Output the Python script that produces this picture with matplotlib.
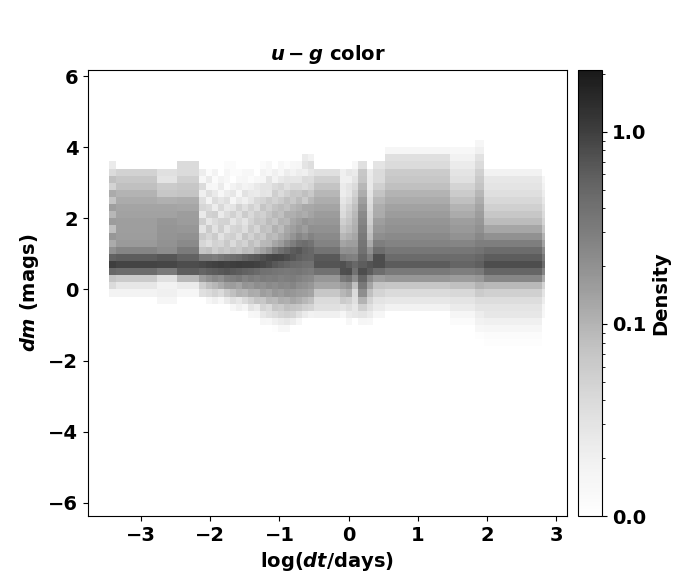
#!/usr/bin/env python3
"""Density of u-g color changes against time lag."""

import matplotlib
matplotlib.use('Agg')
import matplotlib.pyplot as plt
import numpy as np
from matplotlib.colors import LogNorm

# column edges in log(dt/days)
x_edges_left = [-3.46, -3.36, -2.77, -2.48, -2.16]
x_edges_fine = [-2.07, -1.98, -1.89, -1.80, -1.72, -1.63, -1.54, -1.46, -1.37, -1.28,
                -1.20, -1.11, -1.02, -0.94, -0.85, -0.76, -0.68, -0.59, -0.50]
x_edges_right = [-0.12, -0.04, 0.05, 0.14, 0.27, 0.35, 0.53, 1.47, 1.83, 1.96, 2.80, 2.84]

# row edges in dm (mags)
y_edges = [-1.8, -1.6, -1.4, -1.2, -1.0, -0.8, -0.6, -0.4, -0.2, 0.0, 0.2, 0.4, 0.6, 0.8, 1.0,
           1.2, 1.4, 1.6, 1.8, 2.0, 2.2, 2.4, 2.6, 2.8, 3.0, 3.2, 3.4, 3.6, 3.8, 4.0, 4.2]

# density x 1000, one list per column, rows from the bottom up
density_left = [
    [0, 0, 0, 0, 0, 0, 0, 0, 18, 40, 70, 480, 1000, 560, 200, 120, 175, 80, 160, 95, 150, 70, 120, 48, 80, 40, 24, 0, 0, 0],
    [0, 0, 0, 0, 0, 0, 0, 0, 18, 27, 60, 450, 900, 600, 260, 165, 155, 150, 150, 140, 135, 120, 100, 80, 68, 50, 0, 0, 0, 0],
    [0, 0, 0, 0, 0, 0, 0, 16, 20, 19, 34, 330, 880, 680, 220, 195, 190, 180, 175, 140, 135, 108, 68, 60, 30, 34, 0, 0, 0, 0],
    [0, 0, 0, 0, 0, 0, 0, 0, 16, 24, 90, 600, 800, 560, 320, 230, 200, 175, 160, 155, 130, 115, 74, 68, 54, 40, 40, 0, 0, 0],
]

density_fine = [
    [0, 0, 0, 0, 0, 0, 0, 0, 34, 55, 160, 520, 850, 330, 70, 45, 60, 30, 55, 25, 45, 35, 20, 40, 14, 22, 0, 0, 0, 0],
    [0, 0, 0, 0, 0, 0, 0, 16, 40, 80, 200, 580, 900, 340, 80, 35, 45, 60, 28, 50, 40, 18, 35, 16, 25, 12, 0, 0, 0, 0],
    [0, 0, 0, 0, 0, 0, 0, 20, 48, 95, 240, 620, 950, 300, 55, 50, 60, 32, 40, 55, 22, 38, 25, 14, 12, 18, 10, 0, 0, 0],
    [0, 0, 0, 0, 0, 0, 0, 14, 40, 120, 210, 660, 1000, 350, 70, 45, 32, 55, 48, 24, 42, 28, 14, 24, 18, 0, 0, 0, 0, 0],
    [0, 0, 0, 0, 0, 0, 0, 24, 60, 150, 280, 700, 950, 400, 60, 65, 48, 30, 50, 38, 26, 35, 22, 12, 14, 16, 12, 0, 0, 0],
    [0, 0, 0, 0, 0, 0, 14, 34, 80, 160, 300, 640, 1000, 430, 75, 40, 55, 45, 28, 52, 30, 16, 28, 18, 0, 12, 12, 0, 0, 0],
    [0, 0, 0, 0, 0, 0, 20, 27, 100, 135, 330, 600, 1050, 470, 65, 60, 38, 50, 42, 35, 48, 26, 14, 22, 14, 12, 0, 0, 0, 0],
    [0, 0, 0, 0, 0, 0, 16, 40, 95, 190, 270, 560, 1000, 560, 85, 48, 70, 36, 30, 58, 34, 20, 32, 18, 16, 14, 0, 0, 0, 0],
    [0, 0, 0, 0, 0, 14, 30, 54, 120, 175, 310, 520, 1000, 620, 80, 80, 50, 65, 48, 42, 50, 28, 26, 20, 12, 14, 0, 0, 0, 0],
    [0, 0, 0, 0, 0, 16, 24, 74, 115, 215, 280, 470, 950, 660, 110, 60, 75, 45, 68, 58, 38, 42, 24, 26, 14, 0, 0, 0, 0, 0],
    [0, 0, 0, 0, 16, 27, 47, 68, 150, 200, 320, 400, 880, 760, 140, 90, 62, 80, 60, 52, 70, 46, 30, 30, 16, 18, 12, 0, 0, 0],
    [0, 0, 0, 0, 14, 34, 40, 95, 135, 230, 300, 390, 780, 860, 190, 95, 95, 70, 85, 70, 55, 60, 28, 30, 30, 14, 14, 0, 0, 0],
    [0, 0, 0, 11, 20, 40, 68, 88, 175, 215, 310, 365, 660, 900, 300, 130, 85, 105, 70, 90, 75, 48, 55, 40, 18, 20, 0, 0, 0, 0],
    [0, 0, 0, 14, 24, 47, 60, 115, 160, 240, 280, 350, 590, 880, 400, 160, 115, 85, 100, 80, 85, 60, 40, 46, 26, 14, 14, 0, 0, 0],
    [0, 0, 0, 14, 27, 54, 80, 108, 190, 230, 300, 340, 520, 780, 500, 230, 140, 125, 95, 110, 75, 80, 52, 34, 30, 22, 12, 0, 0, 0],
    [0, 0, 0, 0, 22, 47, 74, 130, 175, 255, 310, 350, 470, 680, 620, 300, 190, 145, 130, 110, 95, 65, 68, 44, 28, 18, 14, 0, 0, 0],
    [0, 0, 0, 0, 16, 34, 68, 115, 160, 215, 280, 365, 450, 580, 680, 400, 250, 180, 150, 125, 105, 85, 65, 44, 28, 22, 16, 0, 0, 0],
    [0, 0, 0, 0, 0, 24, 54, 95, 150, 200, 250, 330, 420, 520, 560, 440, 210, 150, 190, 115, 125, 60, 80, 36, 40, 20, 30, 24, 0, 0],
    [0, 0, 0, 0, 0, 19, 47, 80, 135, 175, 235, 310, 400, 500, 500, 380, 270, 205, 165, 135, 125, 90, 65, 45, 38, 28, 36, 19, 0, 0],
]

density_right = [
    [0, 0, 0, 0, 0, 20, 34, 40, 68, 130, 175, 400, 700, 640, 380, 270, 230, 200, 175, 160, 135, 115, 95, 74, 54, 34, 0, 0, 0, 0],
    [0, 0, 0, 0, 0, 16, 30, 60, 95, 160, 340, 760, 750, 340, 200, 135, 95, 70, 55, 40, 35, 28, 22, 24, 20, 20, 0, 0, 0, 0],
    [0, 0, 0, 0, 14, 24, 38, 54, 115, 190, 390, 800, 620, 290, 210, 150, 110, 85, 70, 58, 50, 38, 28, 30, 20, 27, 0, 0, 0, 0],
    [0, 0, 0, 0, 0, 27, 27, 34, 40, 80, 220, 400, 480, 280, 200, 150, 130, 110, 100, 90, 80, 65, 50, 40, 30, 24, 14, 0, 0, 0],
    [0, 0, 0, 0, 16, 30, 54, 100, 215, 340, 520, 780, 600, 500, 400, 370, 330, 290, 255, 230, 190, 150, 115, 95, 74, 68, 34, 0, 0, 0],
    [0, 0, 0, 0, 14, 24, 34, 47, 80, 135, 230, 620, 700, 300, 200, 120, 85, 70, 55, 48, 42, 36, 30, 26, 26, 24, 0, 0, 0, 0],
    [0, 0, 0, 0, 0, 16, 24, 30, 47, 74, 150, 440, 780, 800, 440, 300, 215, 175, 150, 120, 115, 95, 74, 54, 40, 40, 30, 0, 0, 0],
    [0, 0, 0, 0, 0, 0, 19, 27, 40, 68, 175, 340, 620, 460, 350, 270, 230, 200, 180, 160, 140, 120, 100, 80, 68, 60, 40, 34, 16, 0],
    [0, 0, 0, 0, 12, 16, 24, 30, 43, 80, 160, 300, 520, 450, 350, 255, 195, 170, 150, 120, 100, 80, 60, 47, 34, 30, 24, 19, 14, 0],
    [0, 0, 11, 14, 19, 22, 30, 38, 60, 100, 175, 340, 580, 500, 380, 300, 240, 200, 175, 155, 135, 115, 95, 74, 65, 54, 40, 32, 20, 16],
    [0, 11, 12, 16, 20, 27, 30, 38, 54, 90, 250, 520, 800, 600, 450, 300, 200, 130, 85, 68, 54, 43, 35, 30, 27, 19, 0, 0, 0, 0],
    [0, 0, 0, 0, 0, 14, 16, 22, 30, 47, 120, 260, 450, 340, 230, 140, 100, 68, 47, 40, 34, 27, 22, 19, 16, 0, 0, 0, 0, 0],
]

cbar_ticks = [0.01, 0.1, 1.0]
x_ticks = [-3, -2, -1, 0, 1, 2, 3]
y_ticks = [-6, -4, -2, 0, 2, 4, 6]

plt.rcParams['font.weight'] = 'bold'
plt.rcParams['font.size'] = 14
plt.rcParams['axes.titleweight'] = 'bold'
plt.rcParams['axes.labelweight'] = 'bold'

fig = plt.figure(figsize=(7, 5.8), dpi=100)
ax = fig.add_axes([88 / 700, 1 - 516 / 580, 479 / 700, 446 / 580])
cax = fig.add_axes([578 / 700, 1 - 516 / 580, 24 / 700, 446 / 580])

x_edges = np.array(x_edges_left + x_edges_fine + x_edges_right)
columns = density_left + density_fine + density_right
density = np.array(columns, dtype=float).T / 1000.0

mesh = ax.pcolormesh(x_edges, y_edges, np.ma.masked_equal(density, 0),
                     cmap='Greys', alpha=0.9,
                     norm=LogNorm(vmin=0.01, vmax=2.1))

ax.set_xlim(-3.77, 3.16)
ax.set_ylim(-6.37, 6.17)
ax.set_xticks(x_ticks)
ax.set_yticks(y_ticks)
ax.set_xlabel(r'log($\boldsymbol{dt}$/days)', labelpad=4)
ax.set_ylabel(r'$\boldsymbol{dm}$ (mags)', labelpad=5)
ax.set_title(r'$\boldsymbol{u-g}$ color', fontsize=14, pad=7)

cbar = fig.colorbar(mesh, cax=cax, ticks=cbar_ticks, format='%.1f')
cbar.set_label('Density', labelpad=4)

plt.savefig('out.png', dpi=100)
